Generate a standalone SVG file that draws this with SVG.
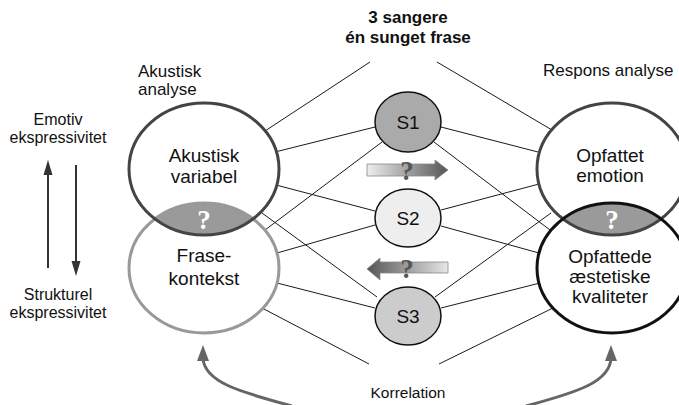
<svg xmlns="http://www.w3.org/2000/svg" width="679" height="405" viewBox="0 0 679 405">
<style>
text{font-family:"Liberation Sans",Arial,sans-serif;fill:#111}
.node{font-size:19px;text-anchor:middle}
.lbl{font-size:17px}
.side{font-size:16px;text-anchor:middle}
.q{font-family:"Liberation Serif","Times New Roman",serif;font-weight:bold;font-size:27px;text-anchor:middle}
.ln{stroke:#1a1a1a;stroke-width:1;fill:none}
.s{stroke:#111;stroke-width:1.5}
</style>
<defs>
<linearGradient id="gR" x1="0" x2="1" y1="0" y2="0"><stop offset="0" stop-color="#eeeeee"/><stop offset="1" stop-color="#555555"/></linearGradient>
<linearGradient id="gL" x1="0" x2="1" y1="0" y2="0"><stop offset="0" stop-color="#555555"/><stop offset="1" stop-color="#e6e6e6"/></linearGradient>
<clipPath id="cTL"><ellipse cx="204" cy="169" rx="75" ry="66"/></clipPath>
<clipPath id="cTR"><ellipse cx="612" cy="169" rx="75" ry="66"/></clipPath>
</defs>
<rect width="679" height="405" fill="#fff"/>

<g id="title">
<text x="408" y="23" font-size="17" font-weight="bold" text-anchor="middle">3 sangere</text>
<text x="408" y="43" font-size="17" font-weight="bold" text-anchor="middle">én sunget frase</text>
<text class="lbl" x="138" y="77">Akustisk</text>
<text class="lbl" x="138" y="95">analyse</text>
<text class="lbl" x="543" y="76">Respons analyse</text>
<text class="side" x="58" y="125">Emotiv</text>
<text class="side" x="58" y="143">ekspressivitet</text>
<text class="side" x="58" y="300">Strukturel</text>
<text class="side" x="58" y="318">ekspressivitet</text>
<text x="408" y="398" font-size="15.5" text-anchor="middle">Korrelation</text>
</g>

<g id="connectors">
<line class="ln" x1="370" y1="62" x2="265" y2="131"/>
<line class="ln" x1="275" y1="152" x2="375" y2="127"/>
<line class="ln" x1="382" y1="142" x2="265" y2="230"/>
<line class="ln" x1="276" y1="185" x2="375" y2="211"/>
<line class="ln" x1="262" y1="213" x2="377" y2="297"/>
<line class="ln" x1="277" y1="253" x2="375" y2="225"/>
<line class="ln" x1="277" y1="283" x2="375" y2="308"/>
<line class="ln" x1="262" y1="308" x2="369" y2="364"/>
<line class="ln" x1="437" y1="62" x2="552" y2="130"/>
<line class="ln" x1="441" y1="127" x2="538" y2="152"/>
<line class="ln" x1="434" y1="142" x2="550" y2="230"/>
<line class="ln" x1="441" y1="210" x2="539" y2="184"/>
<line class="ln" x1="435" y1="297" x2="551" y2="213"/>
<line class="ln" x1="441" y1="226" x2="539" y2="253"/>
<line class="ln" x1="441" y1="308" x2="540" y2="283"/>
<line class="ln" x1="553" y1="308" x2="439" y2="364"/>
<path d="M292 406 C240 392 204 382 203 358" fill="none" stroke="#666" stroke-width="3"/>
<polygon points="203,345 197,361 209,361" fill="#666"/>
<path d="M526 406 C578 392 610 382 611 358" fill="none" stroke="#666" stroke-width="3"/>
<polygon points="611,345 605,361 617,361" fill="#666"/>
<line x1="48" y1="268" x2="48" y2="172" stroke="#333" stroke-width="2"/>
<polygon points="48,160 43.5,175 52.5,175" fill="#333"/>
<line x1="76" y1="165" x2="76" y2="264" stroke="#333" stroke-width="2"/>
<polygon points="76,276 71.5,261 80.5,261" fill="#333"/>
<polygon points="367,164 435,164 435,160 448,170 435,180 435,176 367,176" fill="url(#gR)" stroke="#888" stroke-width="0.8"/>
<text class="q" x="407" y="180" style="fill:#555">?</text>
<polygon points="367,269 380,258 380,262 448,262 448,273 380,273 380,280" fill="url(#gL)" stroke="#888" stroke-width="0.8"/>
<text class="q" x="407" y="278" style="fill:#555">?</text>
</g>

<g id="overlap-left">
<ellipse cx="204" cy="268" rx="75" ry="65" fill="#9a9a9a" clip-path="url(#cTL)"/>
</g>
<g id="overlap-right">
<ellipse cx="612" cy="268" rx="75" ry="65" fill="#9a9a9a" clip-path="url(#cTR)"/>
</g>

<g id="node-frasekontekst">
<ellipse cx="204" cy="268" rx="75" ry="65" fill="none" stroke="#999" stroke-width="3"/>
<text class="node" x="204" y="262">Frase-</text>
<text class="node" x="204" y="285">kontekst</text>
</g>
<g id="node-akustisk-variabel">
<ellipse cx="204" cy="169" rx="75" ry="66" fill="none" stroke="#444" stroke-width="3"/>
<text class="node" x="204" y="162">Akustisk</text>
<text class="node" x="204" y="183">variabel</text>
</g>
<g id="node-opfattet-emotion">
<ellipse cx="612" cy="169" rx="75" ry="66" fill="none" stroke="#444" stroke-width="3"/>
<text class="node" x="610" y="162">Opfattet</text>
<text class="node" x="610" y="182">emotion</text>
</g>
<g id="node-aestetiske">
<ellipse cx="612" cy="268" rx="75" ry="65" fill="none" stroke="#111" stroke-width="3"/>
<text class="node" x="610" y="263">Opfattede</text>
<text class="node" x="610" y="283">æstetiske</text>
<text class="node" x="610" y="303">kvaliteter</text>
</g>
<g id="lens-marks">
<text class="q" x="204" y="229" style="fill:#fff">?</text>
<text class="q" x="612" y="229" style="fill:#fff">?</text>
</g>

<g id="node-s1">
<ellipse class="s" cx="408" cy="122" rx="33" ry="30" fill="#aaaaaa"/>
<text class="node" x="408" y="129">S1</text>
</g>
<g id="node-s2">
<ellipse class="s" cx="408" cy="218" rx="33" ry="29" fill="#eeeeee"/>
<text class="node" x="408" y="225">S2</text>
</g>
<g id="node-s3">
<ellipse class="s" cx="408" cy="316" rx="33" ry="29" fill="#cccccc"/>
<text class="node" x="408" y="323">S3</text>
</g>
</svg>
